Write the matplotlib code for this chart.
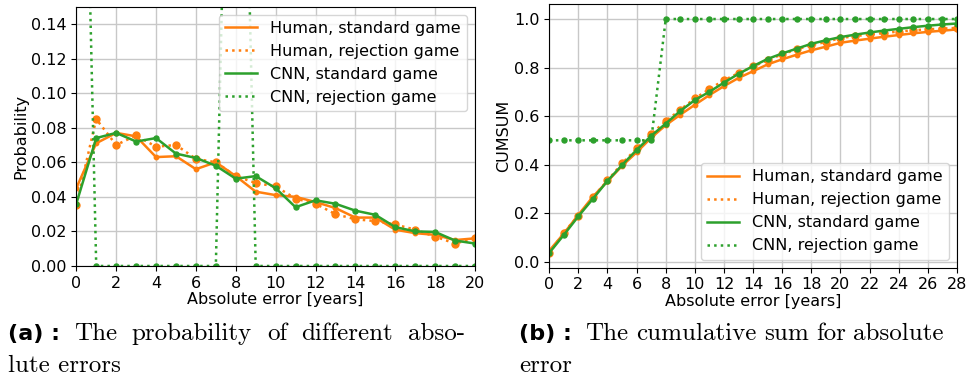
#!/usr/bin/env python3
"""
Absolute error distributions for human players and the CNN,
standard vs. rejection game: probability per error and cumulative sum.
"""

import numpy as np
import matplotlib
matplotlib.use('Agg')
import matplotlib.pyplot as plt

# Absolute error in years
errors = np.arange(0, 29)

# Probability of each absolute error
human_standard = [0.045, 0.071, 0.077, 0.075, 0.063, 0.0635, 0.056, 0.060, 0.052,
                  0.043, 0.041, 0.040, 0.037, 0.0335, 0.028, 0.028, 0.021, 0.019,
                  0.018, 0.015, 0.016,
                  0.009, 0.008, 0.008, 0.007, 0.007, 0.006, 0.005, 0.005]
human_rejection = [0.035, 0.085, 0.070, 0.0755, 0.069, 0.070, 0.062, 0.060, 0.052,
                   0.048, 0.046, 0.039, 0.036, 0.030, 0.027, 0.026, 0.024, 0.021,
                   0.017, 0.013, 0.016,
                   0.008, 0.007, 0.006, 0.006, 0.005, 0.004, 0.003, 0.003]
cnn_standard = [0.036, 0.074, 0.077, 0.072, 0.074, 0.065, 0.0625, 0.058, 0.0505,
                0.052, 0.045, 0.034, 0.038, 0.036, 0.032, 0.0296, 0.0225, 0.020,
                0.0197, 0.0147, 0.013,
                0.010, 0.009, 0.008, 0.007, 0.007, 0.006, 0.005, 0.004]
cnn_rejection = [0.5, 0, 0, 0, 0, 0, 0, 0, 0.5, 0, 0, 0, 0, 0, 0, 0, 0, 0, 0, 0, 0,
                 0, 0, 0, 0, 0, 0, 0, 0]

labels = ['Human, standard game', 'Human, rejection game',
          'CNN, standard game', 'CNN, rejection game']

series = [
    (human_standard, 'C1', '-', 3.2),
    (human_rejection, 'C1', ':', 5.0),
    (cnn_standard, 'C2', '-', 3.6),
    (cnn_rejection, 'C2', ':', 3.6),
]

FS = 11.5
W, H = 973, 387


def draw(ax, cumulative):
    for (values, color, ls, ms), label in zip(series, labels):
        y = np.cumsum(values) if cumulative else np.asarray(values)
        ax.plot(errors, y, color=color, linestyle=ls, linewidth=1.8, label=label)
        ax.plot(errors, y, 'o', color=color, markersize=ms)
    ax.grid(True, color='#c8c8c8', linewidth=1.0)
    ax.set_axisbelow(True)
    ax.tick_params(labelsize=FS)


def justified(fig, x0, x1, y, line, **kw):
    """Spread the words of a caption line evenly between x0 and x1 (pixels)."""
    texts = [fig.text(0, 1 - y / H, w, **kw) for w in line.split()]
    renderer = fig.canvas.get_renderer()
    widths = [t.get_window_extent(renderer).width for t in texts]
    gap = ((x1 - x0) - sum(widths)) / max(len(texts) - 1, 1)
    x = x0
    for t, w in zip(texts, widths):
        t.set_x(x / W)
        x += w + gap


fig = plt.figure(figsize=(W / 100, H / 100), dpi=100)

# Probability per absolute error
ax1 = fig.add_axes([0.0784, 0.3127, 0.4098, 0.670])
draw(ax1, cumulative=False)
ax1.set_xlim(0, 20)
ax1.set_ylim(0, 0.15)
ax1.set_xticks(np.arange(0, 21, 2))
ax1.set_yticks(np.arange(0, 0.141, 0.02))
ax1.set_xlabel('Absolute error [years]', fontsize=FS, labelpad=1)
ax1.set_ylabel('Probability', fontsize=FS, labelpad=2)
ax1.legend(loc='upper right', fontsize=FS, handlelength=2.0,
           borderaxespad=0.5, labelspacing=0.5)

# Cumulative sum
ax2 = fig.add_axes([0.5645, 0.3083, 0.419, 0.6814])
draw(ax2, cumulative=True)
ax2.set_xlim(0, 28)
ax2.set_ylim(-0.025, 1.062)
ax2.set_xticks(np.arange(0, 29, 2))
ax2.set_yticks(np.arange(0, 1.01, 0.2))
ax2.set_xlabel('Absolute error [years]', fontsize=FS, labelpad=1)
ax2.set_ylabel('CUMSUM', fontsize=FS, labelpad=2)
ax2.legend(loc='lower right', fontsize=FS, handlelength=2.0,
           borderaxespad=0.5, labelspacing=0.5)

# Sub-captions
cap_kw = dict(fontsize=18, family='cmr10', va='baseline')
tag_kw = dict(fontsize=16, family='DejaVu Sans', weight='bold', va='baseline')
fig.text(8 / W, 1 - 340 / H, '(a) :', **tag_kw)
justified(fig, 74, 465, 340, 'The probability of different abso-', **cap_kw)
fig.text(8 / W, 1 - 372 / H, 'lute errors', **cap_kw)
fig.text(519 / W, 1 - 340 / H, '(b) :', **tag_kw)
justified(fig, 585, 944, 340, 'The cumulative sum for absolute', **cap_kw)
fig.text(519 / W, 1 - 372 / H, 'error', **cap_kw)

fig.savefig('out.png', dpi=100, facecolor='white')
plt.close(fig)
